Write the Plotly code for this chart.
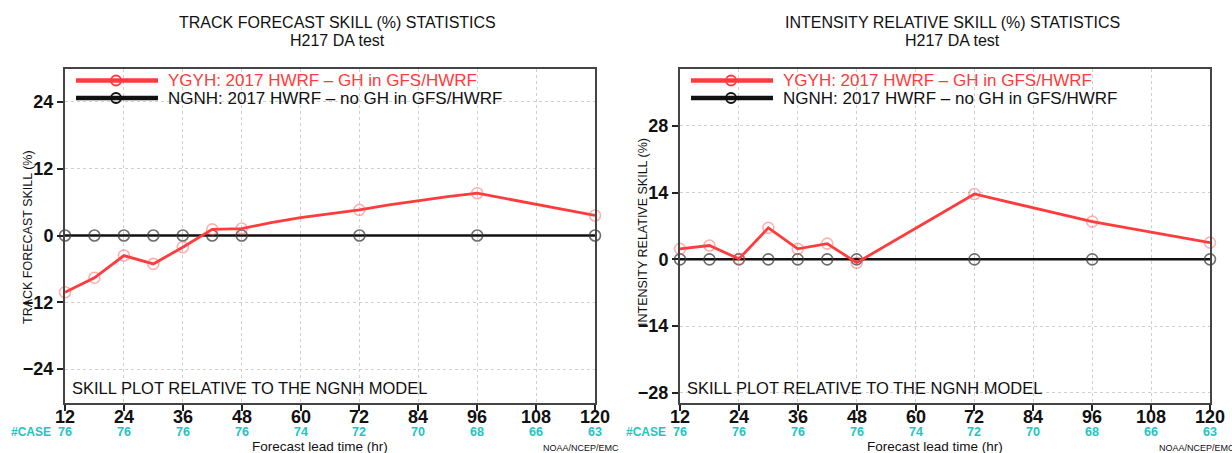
import plotly.graph_objects as go

W, H = 1232, 453

# ---------------- data ----------------
lead_ticks = [12, 24, 36, 48, 60, 72, 84, 96, 108, 120]
case_counts = [76, 76, 76, 76, 74, 72, 70, 68, 66, 63]

marker_hours = [12, 18, 24, 30, 36, 42, 48, 72, 96, 120]

# Track skill (left panel) - full line incl. unmarked intermediate points
track_hours = [12, 18, 24, 30, 36, 42, 48, 54, 60, 66, 72, 78, 84, 90, 96, 120]
track_ygyh = [-10.2, -7.6, -3.6, -5.1, -2.1, 1.1, 1.25, 2.3, 3.2, 3.9, 4.6, 5.5, 6.3, 7.0, 7.6, 3.6]
track_ngnh = [0, 0, 0, 0, 0, 0, 0, 0, 0, 0]

# Intensity skill (right panel)
int_hours = [12, 18, 24, 30, 36, 42, 48, 72, 96, 120]
int_ygyh = [2.2, 2.9, 0.1, 6.6, 2.2, 3.3, -0.7, 13.7, 7.9, 3.5]
int_ngnh = [0, 0, 0, 0, 0, 0, 0, 0, 0, 0]

track_yticks = [-24, -12, 0, 12, 24]
int_yticks = [-28, -14, 0, 14, 28]

# ---------------- styling ----------------
RED = "#ff3b3b"
BLACK = "#111111"
CYAN = "#22c4c4"
FONT = "Liberation Sans Narrow, Liberation Sans, Arial, sans-serif"
FONT2 = "Liberation Sans, Arial, sans-serif"

def px_x(p):
    return p / W

def px_y(p):
    return 1 - p / H

panels = [
    dict(x0=65, x1=595, title="TRACK FORECAST SKILL (%) STATISTICS",
         ytitle="TRACK FORECAST SKILL (%)",
         hours=track_hours, ygyh=track_ygyh, ngnh=track_ngnh, ytitle_y=237, credit_x=541),
    dict(x0=680, x1=1210, title="INTENSITY RELATIVE SKILL (%) STATISTICS",
         ytitle="INTENSITY RELATIVE SKILL (%)",
         hours=int_hours, ygyh=int_ygyh, ngnh=int_ngnh, ytitle_y=232, credit_x=1157),
]

fig = go.Figure()
annotations = []
shapes = []

top_px, bot_px = 68.5, 402.5

for i, p in enumerate(panels):
    xa = "x" if i == 0 else "x2"
    ya = "y" if i == 0 else "y2"
    hours = p["hours"]
    ygyh = p["ygyh"]
    mk_y = [ygyh[hours.index(h)] for h in marker_hours]
    # NGNH line
    fig.add_trace(go.Scatter(x=marker_hours, y=p["ngnh"], mode="lines",
                             line=dict(color=BLACK, width=2.5), xaxis=xa, yaxis=ya,
                             showlegend=False, cliponaxis=False))
    fig.add_trace(go.Scatter(x=marker_hours, y=p["ngnh"], mode="markers",
                             marker=dict(symbol="circle-open", size=11,
                                         color="rgba(60,60,60,0.75)",
                                         line=dict(width=1.6)),
                             xaxis=xa, yaxis=ya, showlegend=False, cliponaxis=False))
    # YGYH line
    fig.add_trace(go.Scatter(x=hours, y=ygyh, mode="lines",
                             line=dict(color=RED, width=2.8), xaxis=xa, yaxis=ya,
                             showlegend=False, cliponaxis=False))
    fig.add_trace(go.Scatter(x=marker_hours, y=mk_y, mode="markers",
                             marker=dict(symbol="circle-open", size=11,
                                         color="rgba(255,80,80,0.45)",
                                         line=dict(width=1.6)),
                             xaxis=xa, yaxis=ya, showlegend=False, cliponaxis=False))

    cx = (p["x0"] + p["x1"]) / 2
    # titles
    for txt, ty in [(p["title"], 22), ("H217 DA test", 40)]:
        annotations.append(dict(text=txt, x=px_x(cx + 7), y=px_y(ty), xref="paper", yref="paper",
                                showarrow=False, font=dict(family=FONT2, size=16, color="#111"),
                                xanchor="center", yanchor="middle"))
    # y-axis title
    annotations.append(dict(text=p["ytitle"], x=px_x(p["x0"] - 37), y=px_y(p["ytitle_y"]),
                            xref="paper", yref="paper", showarrow=False, textangle=-90,
                            font=dict(family=FONT, size=12.5, color="#111"),
                            xanchor="center", yanchor="middle"))
    # skill note
    annotations.append(dict(text="SKILL PLOT RELATIVE TO THE NGNH MODEL", x=px_x(p["x0"] + 5),
                            y=px_y(388), xref="paper", yref="paper", showarrow=False,
                            font=dict(family=FONT2, size=16.5, color="#111"),
                            xanchor="left", yanchor="middle"))
    # x tick labels (placed tight under the axis like the reference)
    for h in lead_ticks:
        annotations.append(dict(text=str(h), x=h, y=px_y(417), xref=xa, yref="paper",
                                showarrow=False,
                                font=dict(family=FONT, size=18, color="#111", weight="bold"),
                                xanchor="center", yanchor="middle"))
    # #CASE row
    annotations.append(dict(text="#CASE", x=px_x(p["x0"] - 56), y=px_y(432), xref="paper",
                            yref="paper", showarrow=False,
                            font=dict(family=FONT2, size=12, color=CYAN, weight="bold"),
                            xanchor="left", yanchor="middle"))
    for h, c in zip(lead_ticks, case_counts):
        annotations.append(dict(text=str(c), x=h, y=px_y(432), xref=xa, yref="paper",
                                showarrow=False,
                                font=dict(family=FONT2, size=12.5, color=CYAN, weight="bold"),
                                xanchor="center", yanchor="middle"))
    # x-axis title
    annotations.append(dict(text="Forecast lead time (hr)", x=px_x(cx - 10), y=px_y(446),
                            xref="paper", yref="paper", showarrow=False,
                            font=dict(family=FONT2, size=13.5, color="#111"),
                            xanchor="center", yanchor="middle"))
    # credit
    annotations.append(dict(text="NOAA/NCEP/EMC", x=px_x(p["credit_x"]), y=px_y(448),
                            xref="paper", yref="paper", showarrow=False,
                            font=dict(family=FONT, size=9, color="#111"),
                            xanchor="left", yanchor="middle"))
    # legend
    lx0, lx1 = p["x0"] + 11, p["x0"] + 93
    lmx = p["x0"] + 51
    for ly, col, txt in [(80.5, RED, "YGYH: 2017 HWRF – GH in GFS/HWRF"),
                         (98, BLACK, "NGNH: 2017 HWRF – no GH in GFS/HWRF")]:
        shapes.append(dict(type="line", xref="paper", yref="paper",
                           x0=px_x(lx0), x1=px_x(lx1), y0=px_y(ly), y1=px_y(ly),
                           line=dict(color=col, width=4.5)))
        shapes.append(dict(type="circle", xref="paper", yref="paper",
                           x0=px_x(lmx - 5), x1=px_x(lmx + 5), y0=px_y(ly + 5), y1=px_y(ly - 5),
                           line=dict(color=col, width=1.8), fillcolor="rgba(0,0,0,0)"))
        annotations.append(dict(text=txt, x=px_x(p["x0"] + 101), y=px_y(ly), xref="paper",
                                yref="paper", showarrow=False,
                                font=dict(family=FONT2, size=17, color=col),
                                xanchor="left", yanchor="middle"))

axis_common = dict(showline=True, mirror=True, linecolor="#444", linewidth=2,
                   ticks="outside", ticklen=6, tickwidth=2, tickcolor="#222",
                   showgrid=True, gridcolor="#cfcfcf", griddash="dot", gridwidth=1,
                   zeroline=False, fixedrange=True, automargin=False)

tickfont = dict(family=FONT, size=18, color="#111", weight="bold")

fig.update_layout(
    width=W, height=H, autosize=False,
    margin=dict(l=0, r=0, t=0, b=0, autoexpand=False),
    paper_bgcolor="white", plot_bgcolor="white",
    showlegend=False,
    xaxis=dict(domain=[px_x(65), px_x(595)], range=[12, 120], tickvals=lead_ticks,
               showticklabels=False, anchor="y", **axis_common),
    yaxis=dict(domain=[px_y(bot_px), px_y(top_px)], range=[-30, 30], tickvals=track_yticks,
               tickfont=tickfont, anchor="x", **axis_common),
    xaxis2=dict(domain=[px_x(680), px_x(1210)], range=[12, 120], tickvals=lead_ticks,
                showticklabels=False, anchor="y2", **axis_common),
    yaxis2=dict(domain=[px_y(bot_px), px_y(top_px)], range=[-30, 40], tickvals=int_yticks,
                tickfont=tickfont, anchor="x2", **axis_common),
    annotations=annotations,
    shapes=shapes,
)

fig.write_html("out.html", config={"displayModeBar": False},
               post_script="document.body.style.margin='0';document.body.style.padding='0';"
                           "document.documentElement.style.overflow='hidden';")
